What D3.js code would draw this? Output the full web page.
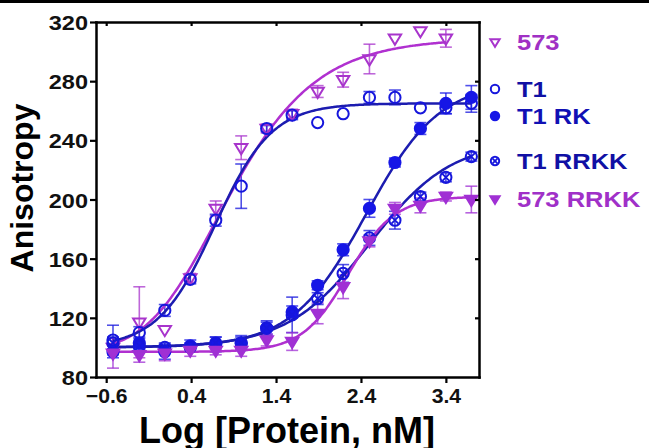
<!DOCTYPE html>
<html>
<head>
<meta charset="utf-8">
<script src="https://cdn.jsdelivr.net/npm/d3@7"></script>
<style>
  body { margin: 0; background: #fff; }
  svg { display: block; font-family: "Liberation Sans", Arial, sans-serif; font-weight: bold; }
</style>
</head>
<body>
<svg id="chart" width="649" height="448"></svg>
<script>
// log10 protein concentration (2-fold dilutions)
var logConc = [-0.52, -0.21, 0.09, 0.39, 0.69, 0.99, 1.29, 1.59, 1.89, 2.19, 2.5, 2.8, 3.1, 3.4, 3.7];

var names = ["573", "T1", "T1 RK", "T1 RRKK", "573 RRKK"];

// anisotropy means and error bars
var vals573 = [100, 117, 112, 147, 194, 235, 248, 258, 273, 281, 295, 309, 314, 309, null];
var err573 = [0, 24, 0, 3, 5, 8, 3, 3, 4, 5, 10, 0, 0, 6, null];
var valsT1 = [105, 110, 125, 146, 186, 209, 248, 257, 252, 258, 269, 269, 262, 262, 265];
var errT1 = [10, 4, 4, 3, 4, 15, 2, 3, 0, 0, 4, 5, 0, 4, 6];
var valsT1RK = [97, 103, 97, 101, 102, 103, 113, 124, 142, 166, 194, 225, 248, 265, 269];
var errT1RK = [4, 4, 5, 4, 5, 5, 4, 4, 3, 4, 6, 3, 4, 7, 8];
var valsT1RRKK = [103, 101, 100, 100, 103, 103, 113, 122, 133, 150, 174, 186, 202, 215, 229];
var errT1RRKK = [4, 3, 3, 3, 4, 4, 5, 12, 4, 6, 5, 6, 3, 3, 3];
var vals573RRKK = [96, 95, 96, 98, 98, 98, 105, 104, 123, 141, 172, 194, 196, 202, 200];
var err573RRKK = [10, 5, 5, 4, 3, 4, 4, 6, 7, 8, 4, 4, 5, 3, 9];

// sigmoidal fit parameters per series (bottom, top, logEC50, hill, asymmetry)
var fitBottom = [97, 100, 100, 100, 97];
var fitTop = [309, 265, 280, 240, 202];
var fitLogEC50 = [0.02, 0.68, 2.46, 2.5, 2.25];
var fitHill = [0.7, 1.3, 1.0, 0.9, 1.6];
var fitAsym = [3, 1, 1, 1, 1];

var xTicks = [-0.6, 0.4, 1.4, 2.4, 3.4];
var yTicks = [80, 120, 160, 200, 240, 280, 320];

var allVals = [vals573, valsT1, valsT1RK, valsT1RRKK, vals573RRKK];
var allErrs = [err573, errT1, errT1RK, errT1RRKK, err573RRKK];
var shapes = ["triOpen", "circOpen", "circFill", "circX", "triFill"];
var lineColor = ["#b030d0", "#1c1cb0", "#1c1cb0", "#1c1cb0", "#b030d0"];
var markColor = ["#a834cc", "#1616dc", "#1616e6", "#1616dc", "#a030d4"];
var textColor = ["#a030c4", "#1010a4", "#1010b4", "#1010a4", "#a030c8"];

var svg = d3.select("#chart");
var plotL = 96, plotR = 479, plotT = 22, plotB = 377;

var x = d3.scaleLinear().domain([-0.72, 3.79]).range([plotL, plotR]);
var y = d3.scaleLinear().domain([80, 320]).range([plotB, plotT]);

// rule across the very top of the figure
svg.append("line").attr("x1", 0).attr("x2", 649).attr("y1", 1.5).attr("y2", 1.5)
  .attr("stroke", "#000").attr("stroke-width", 3);

function marker(g, shape, color, s) {
  var r = 5.6 * s;
  if (shape === "triOpen" || shape === "triFill") {
    var h = 6.2 * s;
    g.append("path")
      .attr("d", "M" + (-h) + "," + (-h * 0.6) + "L" + h + "," + (-h * 0.6) + "L0," + (h * 1.05) + "Z")
      .attr("fill", shape === "triFill" ? color : "none")
      .attr("stroke", color).attr("stroke-width", 2).attr("stroke-linejoin", "miter");
  } else {
    g.append("circle").attr("r", r)
      .attr("fill", shape === "circFill" ? color : "#fff")
      .attr("fill-opacity", shape === "circFill" ? 1 : 0)
      .attr("stroke", color).attr("stroke-width", 2);
    if (shape === "circX") {
      var k = r * 0.62;
      g.append("path").attr("d", "M" + (-k) + "," + (-k) + "L" + k + "," + k + "M" + (-k) + "," + k + "L" + k + "," + (-k))
        .attr("stroke", color).attr("stroke-width", 1.8);
    }
  }
}

// error bars
allVals.forEach(function(vals, i) {
  var g = svg.append("g").attr("stroke", markColor[i]).attr("stroke-opacity", 0.75).attr("stroke-width", 1.6);
  vals.forEach(function(v, j) {
    var e = allErrs[i][j];
    if (v == null || !e) return;
    var cx = x(logConc[j]);
    g.append("line").attr("x1", cx).attr("x2", cx).attr("y1", y(v - e)).attr("y2", y(v + e));
    g.append("line").attr("x1", cx - 6).attr("x2", cx + 6).attr("y1", y(v + e)).attr("y2", y(v + e));
    g.append("line").attr("x1", cx - 6).attr("x2", cx + 6).attr("y1", y(v - e)).attr("y2", y(v - e));
  });
});

// fitted curves
var line = d3.line().x(function(d) { return x(d[0]); }).y(function(d) { return y(d[1]); }).curve(d3.curveBasis);
allVals.forEach(function(vals, i) {
  var xs = logConc.filter(function(c, j) { return vals[j] != null; });
  var lo = d3.min(xs), hi = d3.max(xs);
  var pts = d3.range(lo, hi + 0.001, 0.02).map(function(c) {
    var u = Math.pow(10, (fitLogEC50[i] - c) * fitHill[i]);
    return [c, fitBottom[i] + (fitTop[i] - fitBottom[i]) / Math.pow(1 + u, fitAsym[i])];
  });
  svg.append("path").datum(pts).attr("d", line)
    .attr("fill", "none").attr("stroke", lineColor[i]).attr("stroke-width", 2.5);
});

// data points
allVals.forEach(function(vals, i) {
  vals.forEach(function(v, j) {
    if (v == null) return;
    var g = svg.append("g").attr("transform", "translate(" + x(logConc[j]) + "," + y(v) + ")");
    marker(g, shapes[i], markColor[i], 1);
  });
});

// axes
function styleAxis(g) {
  g.select(".domain").attr("stroke-width", 2.5).attr("stroke-linecap", "square");
  g.selectAll(".tick line").attr("stroke-width", 2.2);
}

var yAxis = svg.append("g").attr("transform", "translate(" + plotL + ",0)")
  .call(d3.axisLeft(y).tickValues(yTicks).tickSize(6).tickSizeOuter(0).tickPadding(8));
styleAxis(yAxis);
yAxis.selectAll("text").attr("font-size", 21).attr("fill", "#111")
  .attr("transform", "scale(1.12,1)").attr("x", -8 / 1.12).attr("dy", "0.36em");

var xAxis = svg.append("g").attr("transform", "translate(0," + plotB + ")")
  .call(d3.axisBottom(x).tickValues(xTicks).tickSize(6).tickSizeOuter(0).tickFormat(d3.format(".1f")));
styleAxis(xAxis);
xAxis.selectAll("text").attr("font-size", 20).attr("fill", "#111")
  .attr("y", 26).attr("dy", 0).attr("transform", "scale(1.06,1)");

var topAxis = svg.append("g").attr("transform", "translate(0," + plotT + ")")
  .call(d3.axisBottom(x).tickValues(xTicks).tickSize(4).tickSizeOuter(0).tickFormat(""));
styleAxis(topAxis);

var rightAxis = svg.append("g").attr("transform", "translate(" + plotR + ",0)")
  .call(d3.axisLeft(y).tickValues(yTicks.slice(1, -1)).tickSize(4).tickSizeOuter(0).tickFormat(""));
styleAxis(rightAxis);

// axis titles
svg.append("text").attr("x", 287).attr("y", 443).attr("text-anchor", "middle")
  .attr("font-size", 36).attr("fill", "#000").text("Log [Protein, nM]");
svg.append("text").attr("transform", "translate(33,188) rotate(-90)").attr("text-anchor", "middle")
  .attr("font-size", 32).attr("fill", "#000").text("Anisotropy");

// legend
var legendY = [42, 89, 116, 161, 199];
names.forEach(function(n, i) {
  var g = svg.append("g").attr("transform", "translate(495," + legendY[i] + ")");
  marker(g, shapes[i], markColor[i], 0.75);
  g.append("text").attr("y", 8).attr("font-size", 22).attr("fill", textColor[i])
    .attr("transform", "scale(1.16,1)").attr("x", 22 / 1.16).text(n);
});
</script>
</body>
</html>
